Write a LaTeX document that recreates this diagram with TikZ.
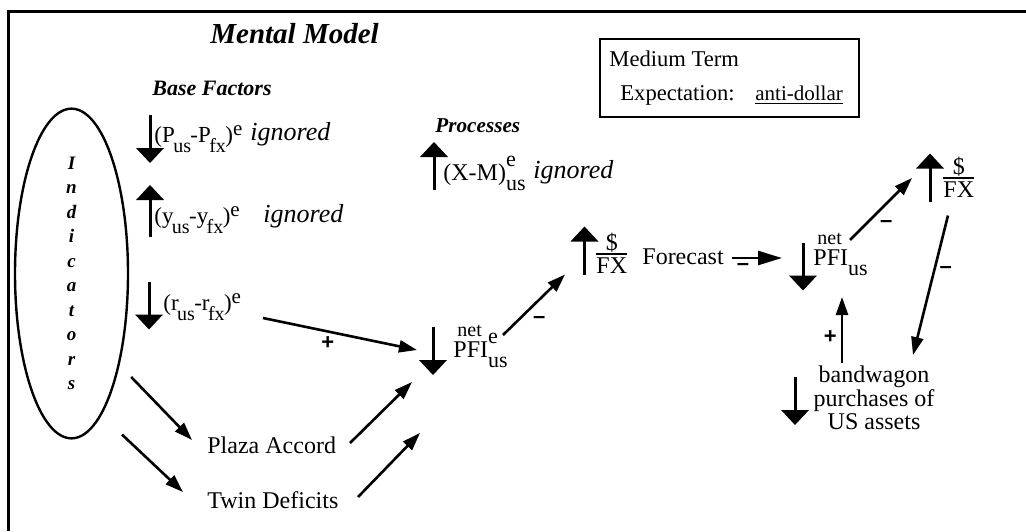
\documentclass[tikz,border=0pt]{standalone}
\usepackage{fontspec}
\setmainfont{Liberation Serif}
\newfontfamily\signfont{Liberation Sans}
\usetikzlibrary{arrows.meta,shapes.geometric}

% sub- and superscripts as the picture sets them
\newcommand{\lo}[1]{\kern-0.8pt\raisebox{-5pt}{\fontsize{10}{11}\selectfont #1}\kern-0.3pt}
\newcommand{\dn}[1]{\raisebox{-5pt}{\fontsize{11}{11}\selectfont #1}}
\newcommand{\hi}[1]{\raisebox{3.5pt}{\fontsize{10.5}{11}\selectfont #1}}
\newcommand{\hilo}[2]{\rlap{\raisebox{7pt}{\fontsize{11}{11}\selectfont #1}}\raisebox{-5pt}{\fontsize{11}{11}\selectfont #2}}
\newcommand{\netover}[1]{\rlap{\raisebox{#1}{\kern2pt\fontsize{10}{10}\selectfont net}}}
\newcommand{\dollarfx}{$\vcenter{\halign{\hfil##\hfil\cr \$\cr\noalign{\kern0.5pt\hrule height0.9pt\kern1.5pt}FX\cr}}$}

\tikzset{
  dirbox/.style={minimum width=14pt, minimum height=#1, inner sep=0pt, outer sep=0pt},
  upsign/.style={dirbox=#1, path picture={
      \fill (path picture bounding box.north) -- ([yshift=-7.5pt]path picture bounding box.north east)
        -- ([yshift=-7.5pt]path picture bounding box.north west) -- cycle;
      \draw[line width=1.5pt] ([yshift=-7pt]path picture bounding box.north) -- (path picture bounding box.south);}},
  upsign/.default=24pt,
  downsign/.style={dirbox=#1, path picture={
      \fill (path picture bounding box.south) -- ([yshift=7.5pt]path picture bounding box.south east)
        -- ([yshift=7.5pt]path picture bounding box.south west) -- cycle;
      \draw[line width=1.5pt] ([yshift=7pt]path picture bounding box.south) -- (path picture bounding box.north);}},
  downsign/.default=24pt,
  txt/.style={anchor=base west, inner sep=0pt, font=\fontsize{12}{14}\selectfont},
  frm/.style={txt, font=\fontsize{11.5}{14}\selectfont},
  ign/.style={txt, font=\fontsize{13}{15}\selectfont\itshape},
  head/.style={txt, font=\fontsize{#1}{#1}\selectfont\bfseries\itshape},
  conn/.style={line width=1.3pt, -{Triangle[length=9pt,width=6pt]}},
  sign/.style={inner sep=0pt, font=\signfont\fontsize{11}{11}\selectfont\bfseries}
}

\begin{document}
\begin{tikzpicture}[x=0.5pt,y=-0.5pt]
  \useasboundingbox (0,0) rectangle (1026,531);

  % frame
  \draw[line width=1.5pt] (8,531) -- (8,11.5) -- (1026,11.5);

  % headings
  \node[head=14.5] (title) at (210,43) {Mental Model};
  \node[head=11] (basef) at (152,95) {Base Factors};
  \node[head=10.6] (proc) at (435,132) {Processes};

  % indicators
  \node[ellipse, draw, line width=1.2pt, minimum width=56.5pt, minimum height=159.5pt,
    inner sep=0pt, align=center, font=\fontsize{9.5}{12.25}\selectfont\bfseries\itshape]
    (ind) at (71.5,273.5) {I\\n\\d\\i\\c\\a\\t\\o\\r\\s};

  % base factors
  \node[downsign] (pmark) at (150,139) {};
  \node[frm] (pdiff) at (154,142) {(P\lo{us}-P\lo{fx})\hi{e}};
  \node[ign] (pign) at (250,140) {ignored};

  \node[upsign=26pt] (ymark) at (150,211) {};
  \node[frm] (ydiff) at (154,223) {(y\lo{us}-y\lo{fx})\hi{e}};
  \node[ign] (yign) at (263,222) {ignored};

  \node[downsign] (rmark) at (149,305.5) {};
  \node[frm] (rdiff) at (163,310) {(r\lo{us}-r\lo{fx})\hi{e}};

  % processes
  \node[upsign] (xmmark) at (434,166) {};
  \node[txt] (xm) at (443,180) {(X-M)\hilo{e}{us}};
  \node[ign] (xmign) at (533,178) {ignored};

  % expectation box
  \node[draw, line width=1.2pt, minimum width=129.5pt, minimum height=39pt,
    anchor=north west, inner sep=0pt] (expbox) at (599,38) {};
  \node[txt, font=\fontsize{11.3}{13}\selectfont] (medium) at (609,66) {Medium Term};
  \node[txt, font=\fontsize{11.3}{13}\selectfont] (expect) at (620,100) {Expectation:};
  \node[txt, font=\fontsize{10.5}{12}\selectfont] (anti) at (755,100) {\underline{anti-dollar}};

  % events
  \node[txt] (plaza) at (207,453) {Plaza Accord};
  \node[txt] (twin) at (207,508) {Twin Deficits};

  % flows
  \node[downsign] (pfiAmark) at (433,351) {};
  \node[txt] (pfiA) at (453,357) {\netover{10.5pt}PFI\hilo{e}{us}};

  \node[upsign] (fcmark) at (584.5,250.5) {};
  \node[anchor=west, inner sep=0pt, font=\fontsize{12}{14}\selectfont] (fcfrac) at (596,253) {\dollarfx};
  \node[txt] (forecast) at (642,264) {Forecast};

  \node[downsign] (pfiBmark) at (803,266.5) {};
  \node[txt] (pfiB) at (813,265) {\netover{10.5pt}PFI\dn{us}};

  \node[upsign] (fxmark) at (930,177.5) {};
  \node[anchor=west, inner sep=0pt, font=\fontsize{12}{14}\selectfont] (fxfrac) at (943,177) {\dollarfx};

  \node[downsign] (bandmark) at (795,401) {};
  \node[align=center, inner sep=0pt, font=\fontsize{12}{11.75}\selectfont] (band) at (874,398)
    {bandwagon\\purchases of\\US assets};

  % connectors
  \draw[conn] ([shift={(100,8)}]rdiff.base west) -- node[sign, pos=0.42, below=2pt] {+}
    ([shift={(-2,-1)}]pfiAmark.west);
  \draw[conn] ([shift={(2,103.5)}]ind.east) -- ([shift={(-15,-13)}]plaza.base west);
  \draw[conn] ([shift={(50.5,-5)}]ind.south) -- ([shift={(-24,-16)}]twin.base west);
  \draw[conn] ([shift={(143,-10)}]plaza.base west) -- ([shift={(-7,7)}]pfiAmark.south west);
  \draw[conn] ([shift={(151,-11)}]twin.base west) -- ([shift={(-13,58)}]pfiAmark.south);
  \draw[conn] ([shift={(50,-22)}]pfiA.base west) -- node[sign, pos=0.4, below right=2pt] {\textendash}
    ([shift={(-5.5,0)}]fcmark.south west);
  \draw[conn, -{Triangle[length=12pt,width=7pt]}] ([shift={(90,-6)}]forecast.base west)
    -- node[sign, pos=0.22, below=2pt] {\textendash} ([shift={(-7,-8.5)}]pfiBmark.west);
  \draw[conn] ([shift={(37,-25)}]pfiB.base west) -- node[sign, pos=0.4, below right=2pt] {\textendash}
    ([shift={(-4,0.5)}]fxmark.west);
  \draw[conn] ([shift={(4,14)}]fxmark.south east) -- node[sign, pos=0.39, right=2pt] {\textendash}
    ([shift={(39,-43)}]band.center);
  \draw[conn] ([shift={(-32,-3)}]band.north) -- node[sign, pos=0.39, left=2pt] {+}
    ([shift={(29,32)}]pfiB.base west);
\end{tikzpicture}
\end{document}
